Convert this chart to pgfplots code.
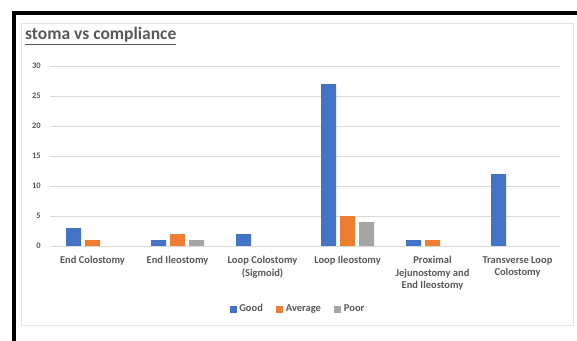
\documentclass[border=0pt]{standalone}
\usepackage{fontspec}
\setmainfont{Carlito}
\usepackage{pgfplots}
\pgfplotsset{compat=1.18}
\definecolor{cGood}{HTML}{4472C4}
\definecolor{cAvg}{HTML}{ED7D31}
\definecolor{cPoor}{HTML}{A5A5A5}
\definecolor{txt}{HTML}{595959}
\definecolor{gridc}{HTML}{D9D9D9}
\begin{document}
\begin{tikzpicture}[x=1pt,y=1pt]
\useasboundingbox (0,0) rectangle (577,340);
\fill[white] (0,0) rectangle (577,340);
\draw[black, line width=4pt] (13.7,-2) -- (13.7,327) -- (579,327);
\draw[gridc!70, line width=0.8pt] (21,15) rectangle (573,317);
\node[anchor=base west, inner sep=0pt, text=txt, font=\fontsize{17.5}{20}\selectfont\bfseries] at (25,300) {\underline{stoma vs compliance}};
\begin{axis}[
  at={(50pt,94pt)}, anchor=south west,
  scale only axis, width=510pt, height=180pt,
  xmin=-0.5, xmax=5.5, ymin=0, ymax=30,
  ytick={0,5,...,30},
  xtick={0,1,2,3,4,5},
  xticklabels={End Colostomy, End Ileostomy, Loop Colostomy\\(Sigmoid), Loop Ileostomy, Proximal\\Jejunostomy and\\End Ileostomy, Transverse Loop\\Colostomy},
  axis line style={draw=none},
  major tick length=0pt,
  xmajorgrids=false, ymajorgrids=true, grid style={draw=gridc, line width=0.8pt},
  /pgf/number format/assume math mode=true,
  yticklabel style={font=\fontsize{8.5}{10}\selectfont\bfseries, text=txt, inner sep=0pt, xshift=-9pt},
  xticklabel style={font=\fontsize{10.5}{12.5}\selectfont\bfseries, text=txt, inner sep=0pt, anchor=north, yshift=-10pt, align=center},
  ybar, bar width=15pt,
  legend style={draw=none, fill=none, at={(0.486,-0.35)}, anchor=center, legend columns=3, font=\fontsize{10.5}{11}\selectfont\bfseries, text=txt, nodes={inner sep=1.5pt}, /tikz/every odd column/.append style={column sep=1pt}, /tikz/every even column/.append style={column sep=12pt}},
  legend image code/.code={\fill[#1] (0pt,-3.5pt) rectangle (7pt,3.5pt);},
]
\addplot[fill=cGood, draw=none, bar shift=-19pt] coordinates {(0,3) (1,1) (2,2) (3,27) (4,1) (5,12)};
\addplot[fill=cAvg, draw=none, bar shift=0pt] coordinates {(0,1) (1,2) (2,0) (3,5) (4,1) (5,0)};
\addplot[fill=cPoor, draw=none, bar shift=19pt] coordinates {(0,0) (1,1) (2,0) (3,4) (4,0) (5,0)};
\draw[gridc, line width=0.8pt] (axis cs:-0.5,0) -- (axis cs:5.5,0);
\legend{Good, Average, Poor}
\end{axis}
\end{tikzpicture}
\end{document}
